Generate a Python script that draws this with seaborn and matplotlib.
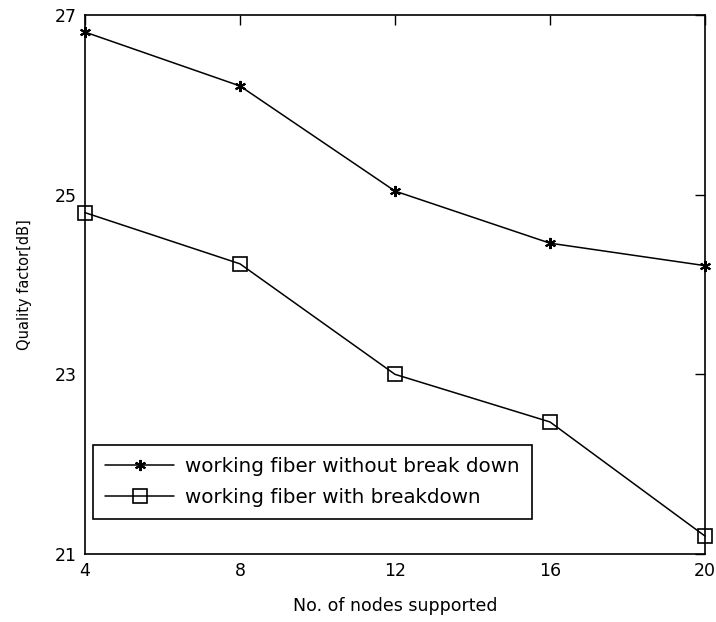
import numpy as np
import pandas as pd
import matplotlib
matplotlib.use("Agg")
import matplotlib.pyplot as plt
import seaborn as sns

# Number of nodes on the x axis
nodes = [4, 8, 12, 16, 20]
# Quality factor (dB) for each case
q_no_break = [26.81, 26.21, 25.04, 24.46, 24.21]
q_break = [24.80, 24.23, 23.00, 22.47, 21.20]
series_names = ["working fiber without break down", "working fiber with breakdown"]
x_ticks = [4, 8, 12, 16, 20]
y_ticks = [21, 23, 25, 27]

df_a = pd.DataFrame({"nodes": nodes, "q": q_no_break})
df_b = pd.DataFrame({"nodes": nodes, "q": q_break})

sns.set_style("white")
plt.rcParams["font.family"] = ["DejaVu Sans"]
plt.rcParams["text.color"] = "black"
plt.rcParams["axes.labelcolor"] = "black"
plt.rcParams["xtick.direction"] = "in"
plt.rcParams["ytick.direction"] = "in"

fig = plt.figure(figsize=(7.16, 6.22), dpi=100)
ax = fig.add_axes([0.1187, 0.1093, 0.8659, 0.8666])

sns.lineplot(data=df_a, x="nodes", y="q", color="black", linewidth=1.1,
             marker=(6, 2, 0), markersize=8, markeredgewidth=1.5,
             markeredgecolor="black", markerfacecolor="black",
             label=series_names[0], ax=ax, clip_on=False)
sns.lineplot(data=df_b, x="nodes", y="q", color="black", linewidth=1.1,
             marker="s", markersize=10, markerfacecolor="none",
             markeredgecolor="black", markeredgewidth=1.2,
             label=series_names[1], ax=ax, clip_on=False)

ax.set_xlim(4, 20)
ax.set_ylim(21, 27)
ax.set_xticks(x_ticks)
ax.set_yticks(y_ticks)
ax.tick_params(axis="both", which="both", top=True, right=True, length=7,
               width=1.0, labelsize=12.5, colors="black", pad=6)
for sp in ax.spines.values():
    sp.set_visible(True)
    sp.set_color("black")
    sp.set_linewidth(1.2)

ax.set_xlabel("No. of nodes supported", fontsize=12.5, labelpad=12)
ax.set_ylabel("Quality factor[dB]", fontsize=10.5, labelpad=16)

handles, labels = ax.get_legend_handles_labels()
leg = ax.legend(handles, labels, loc="lower left", bbox_to_anchor=(0.013, 0.065),
                borderaxespad=0, fancybox=False, framealpha=1, edgecolor="black",
                fontsize=14.3, handlelength=3.5, handletextpad=0.55,
                borderpad=0.6, labelspacing=0.6)
leg.get_frame().set_linewidth(1.2)

fig.savefig("out.png", dpi=100, facecolor="white")
